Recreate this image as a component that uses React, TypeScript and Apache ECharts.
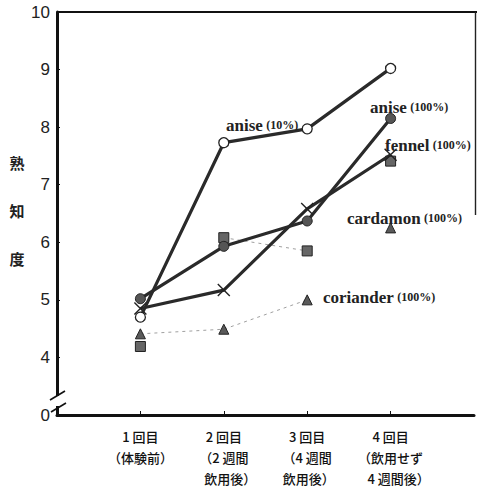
import React, { useEffect, useRef } from 'react';
import * as echarts from 'echarts';

const categories = [
  '1 回目\n（体験前）',
  '2 回目\n（2 週間\n　飲用後）',
  '3 回目\n（4 週間\n 飲用後）',
  '4 回目\n（飲用せず\n　 4 週間後）',
];
const yBreakValue = 3; // shown as "0" (axis break)
const anise10 = [4.7, 7.73, 7.97, 9.02];
const anise100 = [5.02, 5.93, 6.37, 8.15];
const fennel100 = [4.85, 5.17, 6.58, 7.52];
const squares = [4.19, 6.08, 5.85, 7.41];
const triangles = [4.41, 4.49, 5.0, 6.25];
const triangleDottedRange = [0, 2];
const squareDottedRange = [1, 2];
const seriesLabels = [
  { name: 'anise', pct: '(10%)' },
  { name: 'anise', pct: '(100%)' },
  { name: 'fennel', pct: '(100%)' },
  { name: 'cardamon', pct: '(100%)' },
  { name: 'coriander', pct: '(100%)' },
];
const yNameChars = ['熟', '知', '度'];

const pad = (arr: (number | null)[]) => [null, ...arr, null];
const slice = (arr: number[], r: number[]) => arr.map((v, i) => (i >= r[0] && i <= r[1] ? v : null));

export default function App() {
  const ref = useRef<HTMLDivElement>(null);
  useEffect(() => {
    const chart = echarts.init(ref.current!, null, { renderer: 'svg' });
    const dark = '#2a2a2a';
    const thick = { color: dark, width: 3.2 };
    const dotted = { color: '#a0a0a0', width: 1, type: [3, 4] as any };
    const labelPos = [
      [226, 125],
      [370, 107],
      [385, 145],
      [347, 218],
      [323, 297],
    ];
    const yNamePos = [162, 210, 258];
    chart.setOption({
      animation: false,
      grid: { left: 57, right: 0, top: 12, bottom: 66, containLabel: false },
      xAxis: {
        type: 'category',
        boundaryGap: false,
        data: ['', ...categories, ''],
        axisLine: { lineStyle: { color: '#111', width: 3 } },
        axisTick: {
          inside: true,
          length: 4,
          lineStyle: { color: '#111', width: 1 },
          interval: (i: number) => i > 0 && i <= categories.length,
        },
        axisLabel: {
          interval: 0,
          fontSize: 13,
          lineHeight: 21,
          margin: 11,
          color: '#111',
          fontWeight: 500,
          fontFamily: 'Noto Sans CJK JP',
        },
        splitLine: { show: false },
      },
      yAxis: {
        type: 'value',
        min: yBreakValue,
        max: 10,
        interval: 1,
        axisLine: { show: true, lineStyle: { color: '#111', width: 3 } },
        axisTick: { show: true, inside: true, length: 3, lineStyle: { color: '#111', width: 1 } },
        axisLabel: {
          fontSize: 17,
          color: '#222',
          margin: 7,
          fontFamily: 'Liberation Sans',
          formatter: (v: number) => (v === yBreakValue ? '0' : String(v)),
        },
        splitLine: { show: false },
      },
      series: [
        {
          type: 'line',
          data: pad(slice(triangles, triangleDottedRange)),
          showSymbol: false,
          lineStyle: dotted,
          z: 1,
        },
        {
          type: 'line',
          data: pad(slice(squares, squareDottedRange)),
          showSymbol: false,
          lineStyle: dotted,
          z: 1,
        },
        {
          type: 'line',
          data: pad(triangles),
          symbol: 'triangle',
          symbolSize: 10,
          lineStyle: { width: 0, opacity: 0 },
          itemStyle: { color: '#5a5a5a', borderColor: '#222', borderWidth: 1 },
          z: 2,
        },
        {
          type: 'line',
          data: pad(squares),
          symbol: 'rect',
          symbolSize: 10,
          lineStyle: { width: 0, opacity: 0 },
          itemStyle: { color: '#666', borderColor: '#222', borderWidth: 1 },
          z: 2,
        },
        {
          type: 'line',
          data: pad(fennel100),
          symbol: 'path://M0,0L10,10M10,0L0,10',
          symbolSize: 12,
          lineStyle: thick,
          itemStyle: { color: 'transparent', borderColor: '#222', borderWidth: 1.4 },
          z: 3,
        },
        {
          type: 'line',
          data: pad(anise100),
          symbol: 'circle',
          symbolSize: 10,
          lineStyle: thick,
          itemStyle: { color: '#555', borderColor: '#222', borderWidth: 1 },
          z: 3,
        },
        {
          type: 'line',
          data: pad(anise10),
          symbol: 'circle',
          symbolSize: 10,
          lineStyle: thick,
          itemStyle: { color: '#fff', borderColor: '#222', borderWidth: 1.3 },
          z: 4,
        },
      ],
      graphic: [
        // frame top & right
        { type: 'line', shape: { x1: 57, y1: 12, x2: 477, y2: 12 }, style: { stroke: '#111', lineWidth: 2.2 }, z: 10 },
        { type: 'line', shape: { x1: 475.5, y1: 12, x2: 475.5, y2: 215 }, style: { stroke: '#222', lineWidth: 1.4 }, z: 10 },
        // axis break
        { type: 'rect', shape: { x: 52, y: 396, width: 12, height: 10 }, style: { fill: '#fff' }, z: 10 },
        { type: 'line', shape: { x1: 50, y1: 400, x2: 65, y2: 391 }, style: { stroke: '#111', lineWidth: 1.6 }, z: 11 },
        { type: 'line', shape: { x1: 51, y1: 412, x2: 66, y2: 403 }, style: { stroke: '#111', lineWidth: 1.6 }, z: 11 },
        ...yNameChars.map((c, i) => ({
          type: 'text',
          x: 17,
          y: yNamePos[i],
          style: {
            text: c,
            fontSize: 15,
            fontWeight: 'bold',
            fontFamily: 'Noto Sans CJK JP',
            fill: '#222',
            align: 'center',
            verticalAlign: 'middle',
          },
          z: 12,
        })),
        ...seriesLabels.map((s, i) => ({
          type: 'text',
          x: labelPos[i][0],
          y: labelPos[i][1],
          style: {
            text: `{a|${s.name}} {b|${s.pct}}`,
            rich: {
              a: { fontSize: 17, fontWeight: 'bold', fontFamily: 'Liberation Serif', fill: '#222', color: '#222' },
              b: { fontSize: 12, fontWeight: 'bold', fontFamily: 'Liberation Serif', fill: '#222', color: '#222' },
            },
            align: 'left',
            verticalAlign: 'middle',
          },
          z: 12,
        })),
      ],
    });
    return () => chart.dispose();
  }, []);
  return (
    <div
      ref={ref}
      style={{ position: 'fixed', left: 0, top: 0, width: 477, height: 489, background: '#fff' }}
    />
  );
}
